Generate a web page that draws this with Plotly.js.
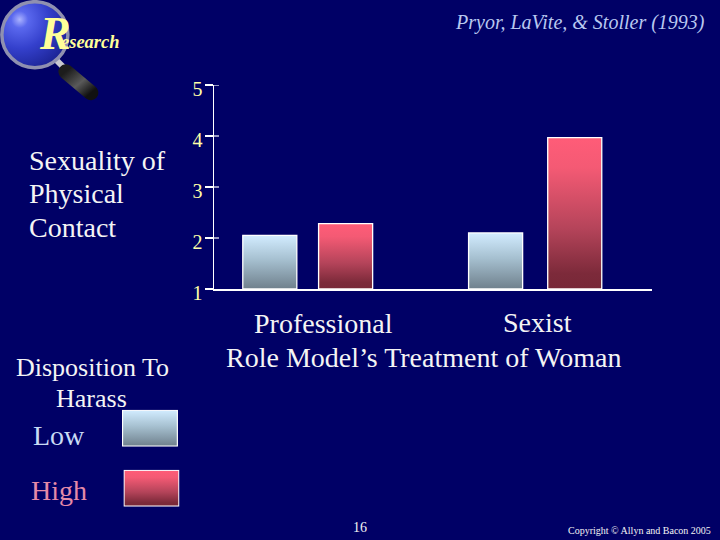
<!DOCTYPE html>
<html>
<head>
<meta charset="utf-8">
<script src="https://cdn.plot.ly/plotly-3.0.1.min.js"></script>
<style>html,body{margin:0;padding:0;background:#000066;overflow:hidden}#chart{width:720px;height:540px}</style>
</head>
<body>
<div id="chart"></div>
<script>
const categories = ["Professional", "Sexist"];
const lowValues = [2.05, 2.10];
const highValues = [2.28, 3.97];
const tickValues = [1, 2, 3, 4, 5];
const seriesNames = ["Low", "High"];
const axisTitle = "Role Model\u2019s Treatment of Woman";
const sourceText = "Pryor, LaVite, & Stoller (1993)";
const copyrightText = "Copyright \u00a9 Allyn and Bacon 2005";
const pageNumber = "16";

const W = 720, H = 540;
const L = 214, R = 651.7, T = 85.3, B = 289.3;
const px = x => (x - L) / (R - L);
const py = y => 1 - (y - T) / (B - T);
const serif = '"Liberation Serif", "Times New Roman", serif';
const WHITE = '#f4f4f4';

function label(text, x, y, size, color, anchor) {
  return {
    text, x: px(x), y: py(y), xref: 'paper', yref: 'paper',
    xanchor: anchor || 'left', yanchor: 'middle', showarrow: false,
    font: {family: serif, size, color}, borderpad: 0
  };
}

const annotations = [
  label('<b><i>R</i></b>', 38, 34, 46, '#ffff99'),
  label('<b><i>esearch</i></b>', 60, 42, 18.5, '#ffff99'),
  label('<i>' + sourceText + '</i>', 706, 22.5, 20, '#b8c8f0', 'right'),
  label('Sexuality of', 28.5, 161, 28, WHITE),
  label('Physical', 28.5, 194, 28, WHITE),
  label('Contact', 28.5, 228, 28, WHITE),
  label('Disposition To', 92.5, 368, 26, WHITE, 'center'),
  label('Harass', 92, 399, 26, WHITE, 'center'),
  label(seriesNames[0], 32.5, 436, 28, '#c8daf4'),
  label(seriesNames[1], 30.5, 491, 28, '#e58aa8'),
  label(categories[0], 323.5, 324, 28, WHITE, 'center'),
  label(categories[1], 537, 323, 28, WHITE, 'center'),
  label(axisTitle, 423.5, 358, 28, WHITE, 'center'),
  label(pageNumber, 360, 528, 14, WHITE, 'center'),
  label(copyrightText, 712, 531, 10, WHITE, 'right')
];

function svgUri(svg) { return 'data:image/svg+xml,' + encodeURIComponent(svg); }
function swatch(c) {
  return svgUri('<svg xmlns="http://www.w3.org/2000/svg" width="56" height="37"><defs><linearGradient id="g" x1="0" y1="0" x2="0" y2="1">' + c +
    '</linearGradient></defs><rect x="0.6" y="0.6" width="54.8" height="35.8" fill="url(#g)" stroke="#fff" stroke-width="1.2"/></svg>');
}
const lowStops = '<stop offset="0" stop-color="#d2ecff"/><stop offset="0.45" stop-color="#a6c0d0"/><stop offset="1" stop-color="#6f808c"/>';
const highStops = '<stop offset="0" stop-color="#ff5c78"/><stop offset="0.2" stop-color="#f45a74"/><stop offset="0.6" stop-color="#b5445a"/><stop offset="0.9" stop-color="#7c2a3a"/><stop offset="1" stop-color="#782838"/>';

const logo = svgUri('<svg xmlns="http://www.w3.org/2000/svg" width="110" height="110">' +
  '<defs><radialGradient id="b" cx="0.27" cy="0.27" r="0.8"><stop offset="0" stop-color="#aab2ff"/><stop offset="0.16" stop-color="#5a68ee"/><stop offset="0.55" stop-color="#3440cc"/><stop offset="1" stop-color="#1c2496"/></radialGradient>' +
  '<linearGradient id="h" x1="0" y1="0" x2="1" y2="1"><stop offset="0" stop-color="#1c1c1c"/><stop offset="0.55" stop-color="#5a5a5a"/><stop offset="1" stop-color="#111"/></linearGradient></defs>' +
  '<line x1="56" y1="60" x2="64" y2="68" stroke="#c8c8d0" stroke-width="6"/>' +
  '<line x1="66" y1="72" x2="91" y2="93" stroke="url(#h)" stroke-width="15" stroke-linecap="round"/>' +
  '<circle cx="35" cy="35" r="33" fill="url(#b)" stroke="#8f90b0" stroke-width="3.5"/></svg>');

function image(source, x, y, w, h) {
  return {source, xref: 'paper', yref: 'paper', x: px(x), y: py(y),
    sizex: w / (R - L), sizey: h / (B - T), xanchor: 'left', yanchor: 'top',
    sizing: 'stretch', layer: 'below'};
}

const toBar = values => values.map(v => v - 1);
function trace(name, values, offset) {
  return {type: 'bar', name, x: categories, y: toBar(values), base: 1, width: 0.2374, offset,
    marker: {color: name === seriesNames[0] ? '#a6c0d0' : '#c04a60', line: {color: '#ffffff', width: 1.3}},
    hoverinfo: 'skip'};
}

const layout = {
  width: W, height: H, autosize: false,
  margin: {l: L, r: W - R, t: T, b: H - B, pad: 0},
  paper_bgcolor: '#000066', plot_bgcolor: '#000066',
  showlegend: false, barmode: 'overlay',
  xaxis: {type: 'category', range: [-0.411, 1.513], showgrid: false, zeroline: false,
    showline: true, linecolor: '#ffffff', linewidth: 1.5, ticks: '', showticklabels: false, fixedrange: true},
  yaxis: {range: [1, 5], tickmode: 'array', tickvals: tickValues, ticktext: tickValues.map(String),
    showgrid: false, zeroline: false, showline: true, linecolor: '#ffffff', linewidth: 1.5,
    ticks: 'outside', ticklen: 8, tickwidth: 1.2, tickcolor: '#ffffff',
    tickfont: {family: serif, size: 20, color: '#ffffa8'}, ticklabelstandoff: -2, ticklabelshift: 4, fixedrange: true},
  annotations,
  images: [image(logo, 0, 0, 110, 110), image(swatch(lowStops), 122, 410, 56, 37), image(swatch(highStops), 123.5, 470, 56, 37)],
  shapes: tickValues.slice(1).map(v => ({type: 'line', xref: 'paper', yref: 'y', x0: 0, x1: 5 / (R - L), y0: v, y1: v,
    line: {color: '#ffffff', width: 1.2}}))
};

const gd = document.getElementById('chart');
Plotly.newPlot(gd, [trace(seriesNames[0], lowValues, [-0.2846, -0.2927]), trace(seriesNames[1], highValues, [0.0484, 0.0549])], layout,
  {staticPlot: true, displayModeBar: false}).then(() => {
  const NS = 'http://www.w3.org/2000/svg';
  const defs = gd.querySelector('.main-svg defs');
  const wrap = document.createElementNS(NS, 'svg');
  wrap.innerHTML = '<linearGradient id="barLow" x1="0" y1="0" x2="0" y2="1">' + lowStops + '</linearGradient>' +
    '<linearGradient id="barHigh" x1="0" y1="0" x2="0" y2="1">' + highStops + '</linearGradient>';
  [...wrap.children].forEach(c => defs.appendChild(c));
  const groups = gd.querySelectorAll('.barlayer .trace');
  ['barLow', 'barHigh'].forEach((id, i) => {
    groups[i].querySelectorAll('path').forEach(p => { p.style.fill = 'url(#' + id + ')'; });
  });
});
</script>
</body>
</html>
